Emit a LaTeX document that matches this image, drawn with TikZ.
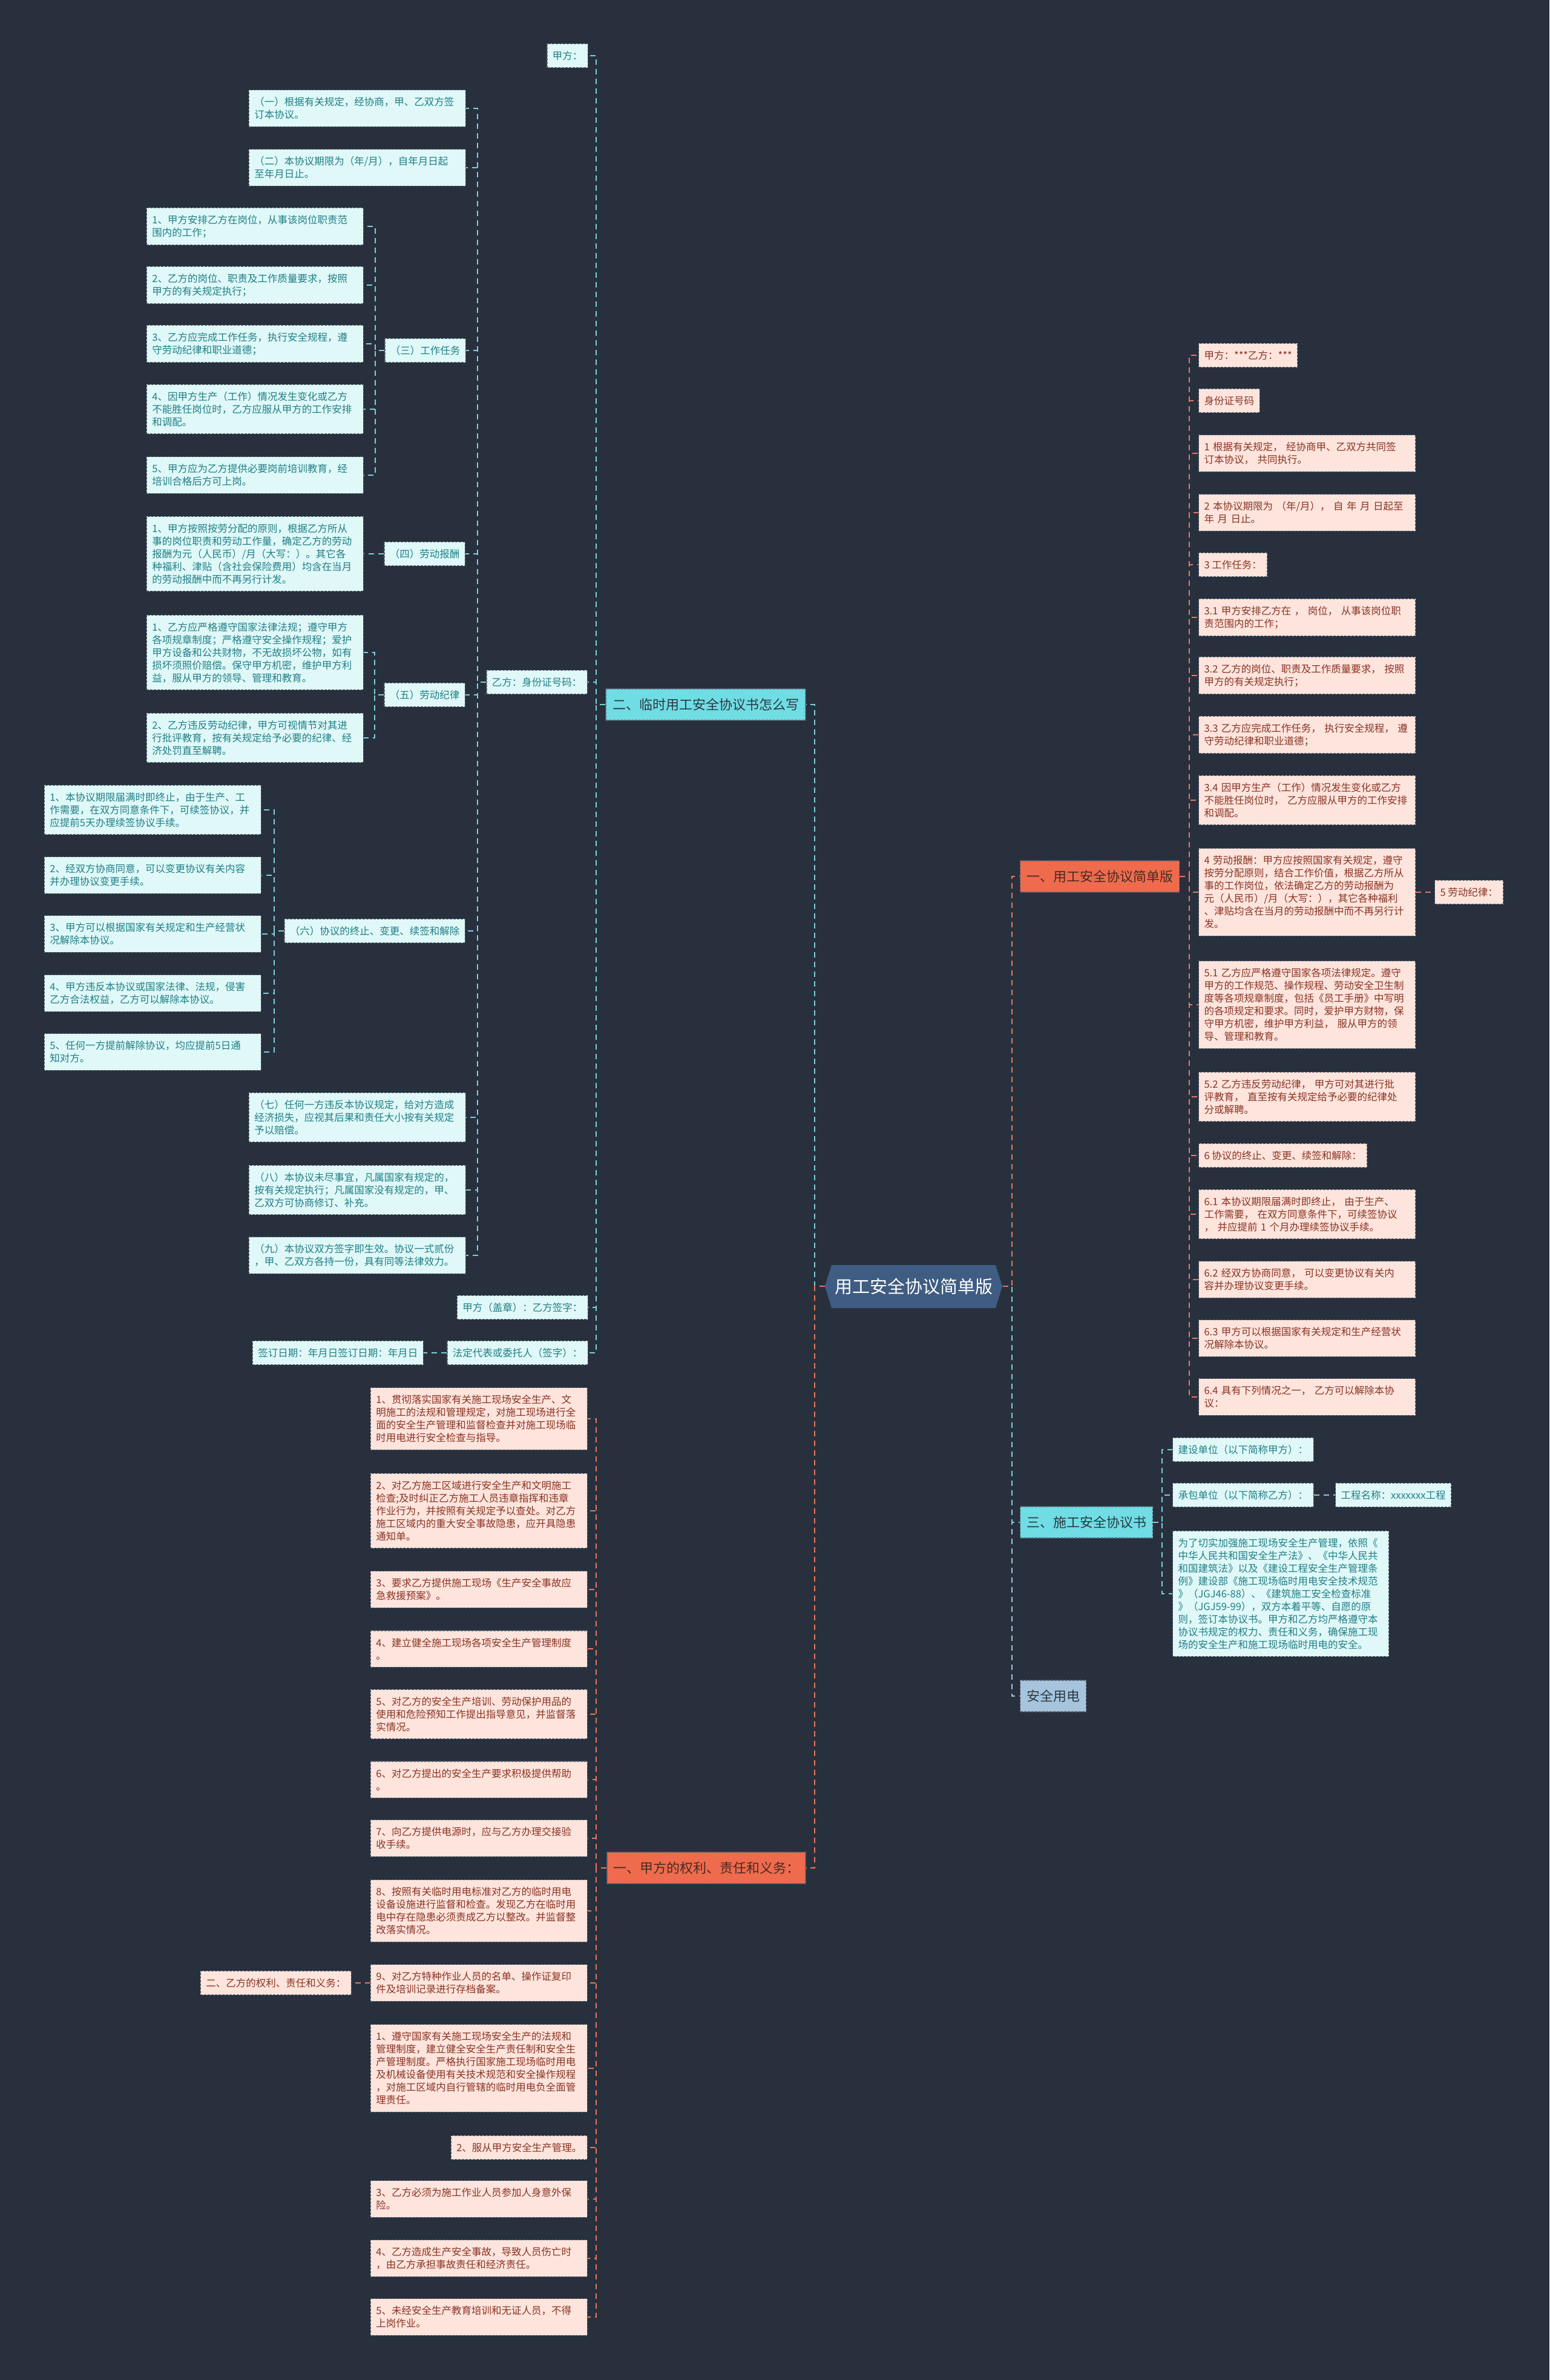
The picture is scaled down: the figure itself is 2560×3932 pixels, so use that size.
\documentclass[tikz,border=0pt]{standalone}
\usepackage{fontspec}
\setmainfont{Noto Sans CJK SC}
\definecolor{bgcol}{HTML}{28303E}
\definecolor{cyanfill}{HTML}{E0F8F8}
\definecolor{cyantext}{HTML}{1F7F86}
\definecolor{pinkfill}{HTML}{FDE4DC}
\definecolor{pinktext}{HTML}{8A3324}
\definecolor{boxedge}{HTML}{5B6472}
\definecolor{cyanbr}{HTML}{70DCE3}
\definecolor{orangebr}{HTML}{EE6B4D}
\definecolor{bluebr}{HTML}{A6C4DC}
\definecolor{rootfill}{HTML}{3F5D83}
\definecolor{branchtext}{HTML}{2A3A44}
\definecolor{obranchtext}{HTML}{4A2A22}
\definecolor{cyanline}{HTML}{7DD0D9}
\definecolor{orangeline}{HTML}{E8775B}
\definecolor{blueline}{HTML}{A6C4DC}
\newcommand\leaffont{\fontsize{16.5}{21}\selectfont}
\newcommand\branchfont{\fontsize{22}{26}\selectfont}
\newcommand\rootfont{\fontsize{29}{34}\selectfont}
\begin{document}
\begin{tikzpicture}[x=1pt,y=-1pt,
    cleaf/.style={draw=boxedge,dash pattern=on 4pt off 2pt,line width=1.1pt,fill=cyanfill,text=cyantext,font=\leaffont,align=left,inner xsep=9pt,inner ysep=12pt},
    pleaf/.style={cleaf,fill=pinkfill,text=pinktext},
    wide/.style={text width=340pt},
    cbranch/.style={draw=boxedge,dash pattern=on 4pt off 2pt,line width=1.1pt,fill=cyanbr,text=branchtext,font=\branchfont,minimum height=52pt,inner sep=0pt},
    obranch/.style={cbranch,fill=orangebr,text=obranchtext},
    bbranch/.style={cbranch,fill=bluebr},
    rootlabel/.style={text=white,font=\rootfont,inner sep=0pt},
    cline/.style={draw=cyanline,line width=2pt,dash pattern=on 9pt off 7pt},
    oline/.style={cline,draw=orangeline},
    bline/.style={cline,draw=blueline}]
    \useasboundingbox (0,0) rectangle (2560,3932);
    \fill[bgcol] (0,0) rectangle (2560,3932);

    % centre
    \fill[rootfill] (1363,2125) -- (1374,2090) -- (1645,2090) -- (1656,2125) -- (1645,2161) -- (1374,2161) -- cycle;
    \node[rootlabel,minimum width=293pt,minimum height=71pt] (root) at (1510,2125) {用工安全协议简单版};

    % main branches
    \node[cbranch,minimum width=330pt] (lin) at (1166,1164) {二、临时用工安全协议书怎么写};
    \node[obranch,minimum width=328pt] (jiaq) at (1167,3086) {一、甲方的权利、责任和义务：};
    \node[obranch,minimum width=263pt] (jian) at (1817,1448) {一、用工安全协议简单版};
    \node[cbranch,minimum width=219pt] (shig) at (1795,2515) {三、施工安全协议书};
    \node[bbranch,minimum width=109pt] (yd) at (1740,2802) {安全用电};

    % left, cyan
    \node[cleaf,anchor=east] (jiafang) at (972,92) {甲方：};
    \node[cleaf,anchor=east] (yifang) at (971,1127) {乙方：身份证号码：};
    \node[cleaf,anchor=east] (gaizhang) at (972,2160) {甲方（盖章）：乙方签字：};
    \node[cleaf,anchor=east] (fading) at (972,2235) {法定代表或委托人（签字）：};
    \node[cleaf,anchor=east] (qianding) at (700,2235) {签订日期：年月日签订日期：年月日};

    \node[cleaf,wide,anchor=east] (xy1) at (770,179) {（一）根据有关规定，经协商，甲、乙双方签\\订本协议。};
    \node[cleaf,wide,anchor=east] (xy2) at (770,277) {（二）本协议期限为（年/月），自年月日起\\至年月日止。};
    \node[cleaf,anchor=east] (xy3) at (770,579) {（三）工作任务};
    \node[cleaf,anchor=east] (xy4) at (769,915) {（四）劳动报酬};
    \node[cleaf,anchor=east] (xy5) at (769,1148) {（五）劳动纪律};
    \node[cleaf,anchor=east] (xy6) at (769,1538) {（六）协议的终止、变更、续签和解除};
    \node[cleaf,wide,anchor=east] (xy7) at (770,1846) {（七）任何一方违反本协议规定，给对方造成\\经济损失，应视其后果和责任大小按有关规定\\予以赔偿。};
    \node[cleaf,wide,anchor=east] (xy8) at (770,1966) {（八）本协议未尽事宜，凡属国家有规定的，\\按有关规定执行；凡属国家没有规定的，甲、\\乙双方可协商修订、补充。};
    \node[cleaf,wide,anchor=east] (xy9) at (770,2074) {（九）本协议双方签字即生效。协议一式贰份\\，甲、乙双方各持一份，具有同等法律效力。};

    \node[cleaf,wide,anchor=east] (rw1) at (601,374) {1、甲方安排乙方在岗位，从事该岗位职责范\\围内的工作；};
    \node[cleaf,wide,anchor=east] (rw2) at (601,471) {2、乙方的岗位、职责及工作质量要求，按照\\甲方的有关规定执行；};
    \node[cleaf,wide,anchor=east] (rw3) at (601,568) {3、乙方应完成工作任务，执行安全规程，遵\\守劳动纪律和职业道德；};
    \node[cleaf,wide,anchor=east] (rw4) at (601,676) {4、因甲方生产（工作）情况发生变化或乙方\\不能胜任岗位时，乙方应服从甲方的工作安排\\和调配。};
    \node[cleaf,wide,anchor=east] (rw5) at (601,785) {5、甲方应为乙方提供必要岗前培训教育，经\\培训合格后方可上岗。};

    \node[cleaf,wide,anchor=east] (bc1) at (601,915) {1、甲方按照按劳分配的原则，根据乙方所从\\事的岗位职责和劳动工作量，确定乙方的劳动\\报酬为元（人民币）/月（大写：）。其它各\\种福利、津贴（含社会保险费用）均含在当月\\的劳动报酬中而不再另行计发。};

    \node[cleaf,wide,anchor=east] (jl1) at (601,1078) {1、乙方应严格遵守国家法律法规；遵守甲方\\各项规章制度；严格遵守安全操作规程；爱护\\甲方设备和公共财物，不无故损坏公物，如有\\损坏须照价赔偿。保守甲方机密，维护甲方利\\益，服从甲方的领导、管理和教育。};
    \node[cleaf,wide,anchor=east] (jl2) at (601,1219) {2、乙方违反劳动纪律，甲方可视情节对其进\\行批评教育，按有关规定给予必要的纪律、经\\济处罚直至解聘。};

    \node[cleaf,wide,anchor=east] (zz1) at (432,1338) {1、本协议期限届满时即终止，由于生产、工\\作需要，在双方同意条件下，可续签协议，并\\应提前5天办理续签协议手续。};
    \node[cleaf,wide,anchor=east] (zz2) at (432,1446) {2、经双方协商同意，可以变更协议有关内容\\并办理协议变更手续。};
    \node[cleaf,wide,anchor=east] (zz3) at (432,1543) {3、甲方可以根据国家有关规定和生产经营状\\况解除本协议。};
    \node[cleaf,wide,anchor=east] (zz4) at (432,1641) {4、甲方违反本协议或国家法律、法规，侵害\\乙方合法权益，乙方可以解除本协议。};
    \node[cleaf,wide,anchor=east] (zz5) at (432,1738) {5、任何一方提前解除协议，均应提前5日通\\知对方。};

    % left, orange
    \node[pleaf,wide,anchor=east] (jq1) at (971,2344) {1、贯彻落实国家有关施工现场安全生产、文\\明施工的法规和管理规定，对施工现场进行全\\面的安全生产管理和监督检查并对施工现场临\\时用电进行安全检查与指导。};
    \node[pleaf,wide,anchor=east] (jq2) at (971,2496) {2、对乙方施工区域进行安全生产和文明施工\\检查;及时纠正乙方施工人员违章指挥和违章\\作业行为，并按照有关规定予以查处。对乙方\\施工区域内的重大安全事故隐患，应开具隐患\\通知单。};
    \node[pleaf,wide,anchor=east] (jq3) at (971,2626) {3、要求乙方提供施工现场《生产安全事故应\\急救援预案》。};
    \node[pleaf,wide,anchor=east] (jq4) at (971,2724) {4、建立健全施工现场各项安全生产管理制度\\。};
    \node[pleaf,wide,anchor=east] (jq5) at (971,2832) {5、对乙方的安全生产培训、劳动保护用品的\\使用和危险预知工作提出指导意见，并监督落\\实情况。};
    \node[pleaf,wide,anchor=east] (jq6) at (971,2940) {6、对乙方提出的安全生产要求积极提供帮助\\。};
    \node[pleaf,wide,anchor=east] (jq7) at (971,3037) {7、向乙方提供电源时，应与乙方办理交接验\\收手续。};
    \node[pleaf,wide,anchor=east] (jq8) at (971,3157) {8、按照有关临时用电标准对乙方的临时用电\\设备设施进行监督和检查。发现乙方在临时用\\电中存在隐患必须责成乙方以整改。并监督整\\改落实情况。};
    \node[pleaf,wide,anchor=east] (jq9) at (971,3276) {9、对乙方特种作业人员的名单、操作证复印\\件及培训记录进行存档备案。};
    \node[pleaf,anchor=east] (yq) at (581,3276) {二、乙方的权利、责任和义务：};
    \node[pleaf,wide,anchor=east] (yq1) at (971,3417) {1、遵守国家有关施工现场安全生产的法规和\\管理制度，建立健全安全生产责任制和安全生\\产管理制度。严格执行国家施工现场临时用电\\及机械设备使用有关技术规范和安全操作规程\\，对施工区域内自行管辖的临时用电负全面管\\理责任。};
    \node[pleaf,anchor=east] (yq2) at (971,3548) {2、服从甲方安全生产管理。};
    \node[pleaf,wide,anchor=east] (yq3) at (971,3633) {3、乙方必须为施工作业人员参加人身意外保\\险。};
    \node[pleaf,wide,anchor=east] (yq4) at (971,3731) {4、乙方造成生产安全事故，导致人员伤亡时\\，由乙方承担事故责任和经济责任。};
    \node[pleaf,wide,anchor=east] (yq5) at (971,3828) {5、未经安全生产教育培训和无证人员，不得\\上岗作业。};

    % right, orange
    \node[pleaf,anchor=west] (jd0) at (1980,587) {甲方：***乙方：***};
    \node[pleaf,anchor=west] (jd1) at (1980,662) {身份证号码};
    \node[pleaf,wide,anchor=west] (jd2) at (1980,749) {1 根据有关规定， 经协商甲、乙双方共同签\\订本协议， 共同执行。};
    \node[pleaf,wide,anchor=west] (jd3) at (1980,847) {2 本协议期限为 （年/月）， 自 年 月 日起至\\年 月 日止。};
    \node[pleaf,anchor=west] (jd4) at (1980,933) {3 工作任务：};
    \node[pleaf,wide,anchor=west] (jd5) at (1980,1020) {3.1 甲方安排乙方在 ， 岗位， 从事该岗位职\\责范围内的工作；};
    \node[pleaf,wide,anchor=west] (jd6) at (1980,1116) {3.2 乙方的岗位、职责及工作质量要求， 按照\\甲方的有关规定执行；};
    \node[pleaf,wide,anchor=west] (jd7) at (1980,1214) {3.3 乙方应完成工作任务， 执行安全规程， 遵\\守劳动纪律和职业道德；};
    \node[pleaf,wide,anchor=west] (jd8) at (1980,1322) {3.4 因甲方生产（工作）情况发生变化或乙方\\不能胜任岗位时， 乙方应服从甲方的工作安排\\和调配。};
    \node[pleaf,wide,anchor=west] (jd9) at (1980,1474) {4 劳动报酬：甲方应按照国家有关规定，遵守\\按劳分配原则，结合工作价值，根据乙方所从\\事的工作岗位，依法确定乙方的劳动报酬为\\元（人民币）/月（大写：），其它各种福利\\、津贴均含在当月的劳动报酬中而不再另行计\\发。};
    \node[pleaf,anchor=west] (jl) at (2370,1474) {5 劳动纪律：};
    \node[pleaf,wide,anchor=west] (jd10) at (1980,1660) {5.1 乙方应严格遵守国家各项法律规定。遵守\\甲方的工作规范、操作规程、劳动安全卫生制\\度等各项规章制度，包括《员工手册》中写明\\的各项规定和要求。同时，爱护甲方财物，保\\守甲方机密，维护甲方利益， 服从甲方的领\\导、管理和教育。};
    \node[pleaf,wide,anchor=west] (jd11) at (1980,1812) {5.2 乙方违反劳动纪律， 甲方可对其进行批\\评教育， 直至按有关规定给予必要的纪律处\\分或解聘。};
    \node[pleaf,anchor=west] (jd12) at (1980,1909) {6 协议的终止、变更、续签和解除：};
    \node[pleaf,wide,anchor=west] (jd13) at (1980,2006) {6.1 本协议期限届满时即终止， 由于生产、\\工作需要， 在双方同意条件下，可续签协议\\， 并应提前 1 个月办理续签协议手续。};
    \node[pleaf,wide,anchor=west] (jd14) at (1980,2114) {6.2 经双方协商同意， 可以变更协议有关内\\容并办理协议变更手续。};
    \node[pleaf,wide,anchor=west] (jd15) at (1980,2211) {6.3 甲方可以根据国家有关规定和生产经营状\\况解除本协议。};
    \node[pleaf,wide,anchor=west] (jd16) at (1980,2308) {6.4 具有下列情况之一， 乙方可以解除本协\\议：};

    % right, cyan
    \node[cleaf,anchor=west] (sg1) at (1937,2395) {建设单位（以下简称甲方）：};
    \node[cleaf,anchor=west] (sg2) at (1937,2470) {承包单位（以下简称乙方）：};
    \node[cleaf,anchor=west] (gc) at (2206,2470) {工程名称：xxxxxxx工程};
    \node[cleaf,text width=339pt,anchor=west] (sg3) at (1937,2633) {为了切实加强施工现场安全生产管理，依照《\\中华人民共和国安全生产法》、《中华人民共\\和国建筑法》以及《建设工程安全生产管理条\\例》建设部《施工现场临时用电安全技术规范\\》（JGJ46-88）、《建筑施工安全检查标准\\》（JGJ59-99），双方本着平等、自愿的原\\则，签订本协议书。甲方和乙方均严格遵守本\\协议书规定的权力、责任和义务，确保施工现\\场的安全生产和施工现场临时用电的安全。};

    % connectors
    \draw[cline] (root.west) -- ++(-17,0) |- (lin.east);
    \draw[oline] (root.west) -- ++(-17,0) |- (jiaq.east);
    \draw[bline] (root.east) -- ++(15,0) |- (yd.west);
    \draw[cline] (root.east) -- ++(15,0) |- (shig.west);
    \draw[oline] (root.east) -- ++(15,0) |- (jian.west);

    \draw[cline] (lin.west) -- ++(-15,0) |- (jiafang.east) (lin.west) -- ++(-15,0) |- (yifang.east)
        (lin.west) -- ++(-15,0) |- (gaizhang.east) (lin.west) -- ++(-15,0) |- (fading.east);
    \draw[cline] (fading.west) -- (qianding.east);
    \draw[cline] (yifang.west) -- ++(-14,0) |- (xy1.east) (yifang.west) -- ++(-14,0) |- (xy2.east)
        (yifang.west) -- ++(-14,0) |- (xy3.east) (yifang.west) -- ++(-14,0) |- (xy4.east)
        (yifang.west) -- ++(-14,0) |- (xy5.east) (yifang.west) -- ++(-14,0) |- (xy6.east)
        (yifang.west) -- ++(-14,0) |- (xy7.east) (yifang.west) -- ++(-14,0) |- (xy8.east)
        (yifang.west) -- ++(-14,0) |- (xy9.east);
    \draw[cline] (xy3.west) -- ++(-15,0) |- (rw1.east) (xy3.west) -- ++(-15,0) |- (rw2.east)
        (xy3.west) -- ++(-15,0) |- (rw3.east) (xy3.west) -- ++(-15,0) |- (rw4.east)
        (xy3.west) -- ++(-15,0) |- (rw5.east);
    \draw[cline] (xy4.west) -- (bc1.east);
    \draw[cline] (xy5.west) -- ++(-15,0) |- (jl1.east) (xy5.west) -- ++(-15,0) |- (jl2.east);
    \draw[cline] (xy6.west) -- ++(-16,0) |- (zz1.east) (xy6.west) -- ++(-16,0) |- (zz2.east)
        (xy6.west) -- ++(-16,0) |- (zz3.east) (xy6.west) -- ++(-16,0) |- (zz4.east)
        (xy6.west) -- ++(-16,0) |- (zz5.east);

    \draw[oline] (jiaq.west) -- ++(-17,0) |- (jq1.east) (jiaq.west) -- ++(-17,0) |- (jq2.east)
        (jiaq.west) -- ++(-17,0) |- (jq3.east) (jiaq.west) -- ++(-17,0) |- (jq4.east)
        (jiaq.west) -- ++(-17,0) |- (jq5.east) (jiaq.west) -- ++(-17,0) |- (jq6.east)
        (jiaq.west) -- ++(-17,0) |- (jq7.east) (jiaq.west) -- ++(-17,0) |- (jq8.east)
        (jiaq.west) -- ++(-17,0) |- (jq9.east) (jiaq.west) -- ++(-17,0) |- (yq1.east)
        (jiaq.west) -- ++(-17,0) |- (yq2.east) (jiaq.west) -- ++(-17,0) |- (yq3.east)
        (jiaq.west) -- ++(-17,0) |- (yq4.east) (jiaq.west) -- ++(-17,0) |- (yq5.east);
    \draw[oline] (jq9.west) -- (yq.east);

    \draw[oline] (jian.east) -- ++(16,0) |- (jd0.west) (jian.east) -- ++(16,0) |- (jd1.west)
        (jian.east) -- ++(16,0) |- (jd2.west) (jian.east) -- ++(16,0) |- (jd3.west)
        (jian.east) -- ++(16,0) |- (jd4.west) (jian.east) -- ++(16,0) |- (jd5.west)
        (jian.east) -- ++(16,0) |- (jd6.west) (jian.east) -- ++(16,0) |- (jd7.west)
        (jian.east) -- ++(16,0) |- (jd8.west) (jian.east) -- ++(16,0) |- (jd9.west)
        (jian.east) -- ++(16,0) |- (jd10.west) (jian.east) -- ++(16,0) |- (jd11.west)
        (jian.east) -- ++(16,0) |- (jd12.west) (jian.east) -- ++(16,0) |- (jd13.west)
        (jian.east) -- ++(16,0) |- (jd14.west) (jian.east) -- ++(16,0) |- (jd15.west)
        (jian.east) -- ++(16,0) |- (jd16.west);
    \draw[oline] (jd9.east) -- (jl.west);

    \draw[cline] (shig.east) -- ++(15,0) |- (sg1.west) (shig.east) -- ++(15,0) |- (sg2.west)
        (shig.east) -- ++(15,0) |- (sg3.west);
    \draw[cline] (sg2.east) -- (gc.west);
\end{tikzpicture}
\end{document}
